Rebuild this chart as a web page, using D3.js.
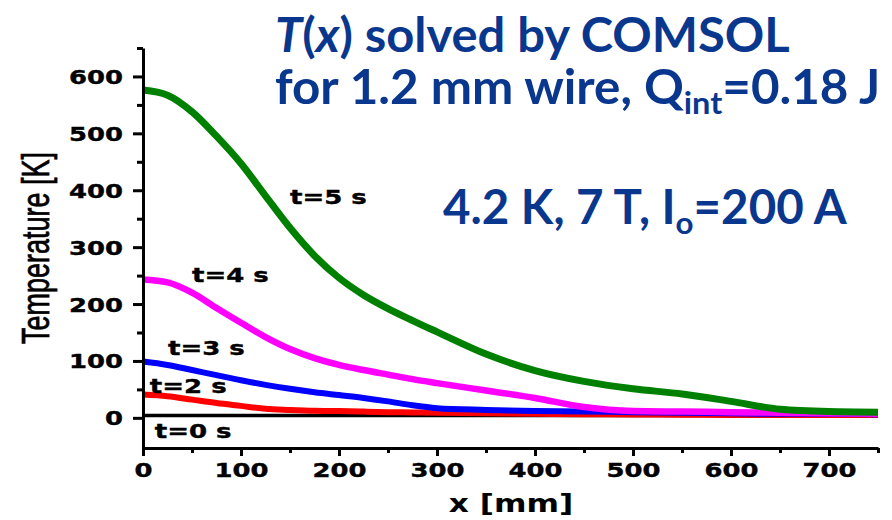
<!DOCTYPE html>
<html>
<head>
<meta charset="utf-8">
<script src="https://cdn.jsdelivr.net/npm/d3@7"></script>
<style>
  body { margin: 0; background: #fff; }
  svg { display: block; }
  .tick text { font-family: "DejaVu Sans", sans-serif; font-weight: bold; }
</style>
</head>
<body>
<div id="chart"><svg></svg></div>
<script>
// x positions [mm] shared by every curve
var xPos = [0, 25, 50, 75, 100, 125, 150, 175, 200, 225, 250, 275, 300, 350, 400, 450, 500, 550, 600, 650, 700, 750];

// temperature [K] at each x, one list per time
var temp0 = [4.2, 4.2, 4.2, 4.2, 4.2, 4.2, 4.2, 4.2, 4.2, 4.2, 4.2, 4.2, 4.2, 4.2, 4.2, 4.2, 4.2, 4.2, 4.2, 4.2, 4.2, 4.2];
var temp2 = [41, 38, 32, 26, 21, 16, 14, 12.5, 12, 11, 10, 9.5, 9, 8, 7, 6.5, 6, 5.5, 5, 5, 5, 5];
var temp3 = [99, 93, 84, 75, 66, 58, 51, 45, 40, 35, 29, 22, 17, 14, 12, 11, 10, 9, 8, 7, 7, 6];
var temp4 = [243, 238, 220, 193, 167, 142, 121, 105, 93, 84, 76, 68, 61, 48, 35, 19, 12, 11, 10, 9, 8, 7];
var temp5 = [576, 567, 538, 495, 447, 390, 334, 285, 246, 216, 192, 171, 151, 112, 83, 64, 51, 42, 29, 15, 11, 10];

var seriesNames = ["t=0 s", "t=2 s", "t=3 s", "t=4 s", "t=5 s"];
var seriesColors = ["#000000", "#ff0000", "#0000ff", "#ff00ff", "#008000"];
var seriesWidths = [3.5, 6, 6, 6.5, 7];
// where each label sits, in data units (x mm, T K)
var labelX = [12, 7, 25.5, 50, 150];
var labelT = [-36, 43, 111, 238, 376];

var xTicks = [0, 100, 200, 300, 400, 500, 600, 700];
var xMinor = [50, 150, 250, 350, 450, 550, 650, 750];
var yTicks = [0, 100, 200, 300, 400, 500, 600];
var yMinor = [50, 150, 250, 350, 450, 550, 650];

var titleColor = "#0a378e";
var stretch = 1.3; // glyphs in the plot are drawn wide

var svg = d3.select("#chart svg").attr("width", 892).attr("height", 520);

var x = d3.scaleLinear().domain([0, 750]).range([143, 878]);
var y = d3.scaleLinear().domain([-53, 650]).range([448, 48]);

// minor ticks
svg.append("g")
  .attr("transform", "translate(143,0)")
  .call(d3.axisLeft(y).tickValues(yMinor).tickSize(6).tickSizeOuter(0).tickFormat(""))
  .call(g => g.select(".domain").remove());
svg.append("g")
  .attr("transform", "translate(0,448)")
  .call(d3.axisBottom(x).tickValues(xMinor).tickSize(5).tickSizeOuter(0).tickFormat(""))
  .call(g => g.select(".domain").remove());

// curves
var line = d3.line()
  .x((d, i) => x(xPos[i]))
  .y(d => y(d))
  .curve(d3.curveMonotoneX);

var allTemps = [temp0, temp2, temp3, temp4, temp5];
svg.append("g")
  .selectAll("path")
  .data(allTemps)
  .join("path")
  .attr("d", line)
  .attr("fill", "none")
  .attr("stroke", (d, i) => seriesColors[i])
  .attr("stroke-width", (d, i) => seriesWidths[i]);

// major axes
var yAxis = svg.append("g")
  .attr("transform", "translate(143,0)")
  .call(d3.axisLeft(y).tickValues(yTicks).tickSize(10).tickSizeOuter(0));
yAxis.selectAll("line, path").attr("stroke", "#000").attr("stroke-width", 3);
yAxis.selectAll("text")
  .attr("x", null).attr("dy", null)
  .attr("transform", `translate(-20,7) scale(1.36,1)`)
  .style("font-size", "19px")
  .attr("fill", "#000").attr("stroke", "#000").attr("stroke-width", 0.4);

var xAxis = svg.append("g")
  .attr("transform", "translate(0,448)")
  .call(d3.axisBottom(x).tickValues(xTicks).tickSize(8).tickSizeOuter(0));
xAxis.selectAll("line, path").attr("stroke", "#000").attr("stroke-width", 3);
xAxis.selectAll("text")
  .attr("y", null).attr("dy", null)
  .attr("transform", `translate(0,29) scale(1.36,1)`)
  .style("font-size", "19px")
  .attr("fill", "#000").attr("stroke", "#000").attr("stroke-width", 0.4);
svg.selectAll(".tick line").attr("stroke", "#000").attr("stroke-width", 3);

// curve labels
svg.append("g")
  .selectAll("text")
  .data(seriesNames)
  .join("text")
  .attr("transform", (d, i) => `translate(${x(labelX[i])},${y(labelT[i])}) scale(${stretch},1)`)
  .attr("font-family", "DejaVu Sans, sans-serif")
  .attr("font-weight", "bold")
  .attr("font-size", 20)
  .attr("stroke", "#000").attr("stroke-width", 0.4)
  .text(d => d);

// axis titles
svg.append("text")
  .attr("transform", `translate(511,512) scale(${stretch},1)`)
  .attr("text-anchor", "middle")
  .attr("font-family", "DejaVu Sans, sans-serif")
  .attr("font-weight", "bold")
  .attr("font-size", 24)
  .text("x [mm]");

svg.append("text")
  .attr("transform", `translate(49,248) scale(1.45,1) rotate(-90)`)
  .attr("text-anchor", "middle")
  .attr("font-family", "Liberation Sans, Arial, sans-serif")
  .attr("font-size", 27)
  .attr("stroke", "#000")
  .attr("stroke-width", 0.5)
  .text("Temperature [K]");

// titles in blue
var tFont = "Lato, 'Noto Sans', sans-serif";
function titleLine(px, py, sx) {
  return svg.append("text")
    .attr("transform", `translate(${px},${py}) scale(${sx},1)`)
    .attr("font-family", tFont).attr("font-weight", "bold").attr("font-size", 47)
    .attr("fill", titleColor);
}
var t1 = titleLine(275, 52, 1.04);
t1.append("tspan").attr("font-style", "italic").text("T");
t1.append("tspan").text("(");
t1.append("tspan").attr("font-style", "italic").text("x");
t1.append("tspan").text(") solved by COMSOL");

var t2 = titleLine(275, 104, 1.05);
t2.append("tspan").text("for 1.2 mm wire, Q");
t2.append("tspan").attr("font-size", 31).attr("dy", 10).text("int");
t2.append("tspan").attr("dy", -10).text("=0.18 J");

var t3 = titleLine(443, 224, 1.01);
t3.append("tspan").text("4.2 K, 7 T, I");
t3.append("tspan").attr("font-size", 31).attr("dy", 10).text("o");
t3.append("tspan").attr("dy", -10).text("=200 A");
</script>
</body>
</html>
